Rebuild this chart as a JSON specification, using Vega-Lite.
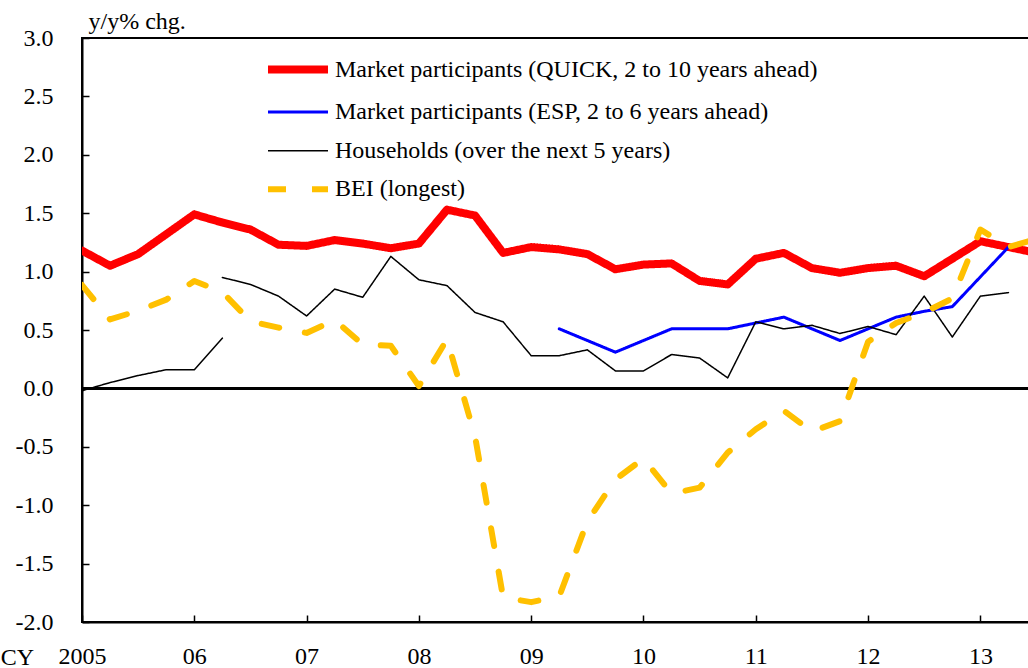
{
  "$schema": "https://vega.github.io/schema/vega-lite/v6.json",
  "width": 947,
  "height": 584,
  "autosize": {"type": "none"},
  "padding": {"left": 82, "top": 38, "right": 0, "bottom": 46},
  "background": "white",
  "config": {
    "font": "Liberation Serif",
    "view": {"stroke": "black", "strokeWidth": 2},
    "axis": {
      "grid": false,
      "domainColor": "black",
      "domainWidth": 2,
      "tickColor": "black",
      "tickWidth": 1.5,
      "tickSize": -7,
      "labelFont": "Liberation Serif",
      "labelFontSize": 24,
      "labelColor": "black",
      "titleFont": "Liberation Serif",
      "titleFontSize": 24,
      "titleFontWeight": "normal",
      "titleColor": "black",
      "labelFlush": false,
      "labelOverlap": false
    }
  },
  "data": {
    "values": [
      {"s": "Q", "t": 2005.0, "v": 1.18}, {"s": "Q", "t": 2005.25, "v": 1.05}, {"s": "Q", "t": 2005.5, "v": 1.15}, {"s": "Q", "t": 2005.75, "v": 1.32},
      {"s": "Q", "t": 2006.0, "v": 1.49}, {"s": "Q", "t": 2006.25, "v": 1.42}, {"s": "Q", "t": 2006.5, "v": 1.36}, {"s": "Q", "t": 2006.75, "v": 1.23},
      {"s": "Q", "t": 2007.0, "v": 1.22}, {"s": "Q", "t": 2007.25, "v": 1.27}, {"s": "Q", "t": 2007.5, "v": 1.24}, {"s": "Q", "t": 2007.75, "v": 1.2},
      {"s": "Q", "t": 2008.0, "v": 1.24}, {"s": "Q", "t": 2008.25, "v": 1.53}, {"s": "Q", "t": 2008.5, "v": 1.48}, {"s": "Q", "t": 2008.75, "v": 1.16},
      {"s": "Q", "t": 2009.0, "v": 1.21}, {"s": "Q", "t": 2009.25, "v": 1.19}, {"s": "Q", "t": 2009.5, "v": 1.15}, {"s": "Q", "t": 2009.75, "v": 1.02},
      {"s": "Q", "t": 2010.0, "v": 1.06}, {"s": "Q", "t": 2010.25, "v": 1.07}, {"s": "Q", "t": 2010.5, "v": 0.92}, {"s": "Q", "t": 2010.75, "v": 0.89},
      {"s": "Q", "t": 2011.0, "v": 1.11}, {"s": "Q", "t": 2011.25, "v": 1.16}, {"s": "Q", "t": 2011.5, "v": 1.03}, {"s": "Q", "t": 2011.75, "v": 0.99},
      {"s": "Q", "t": 2012.0, "v": 1.03}, {"s": "Q", "t": 2012.25, "v": 1.05}, {"s": "Q", "t": 2012.5, "v": 0.96}, {"s": "Q", "t": 2012.75, "v": 1.11},
      {"s": "Q", "t": 2013.0, "v": 1.26}, {"s": "Q", "t": 2013.25, "v": 1.21}, {"s": "Q", "t": 2013.5, "v": 1.16},

      {"s": "E", "t": 2009.25, "v": 0.51}, {"s": "E", "t": 2009.75, "v": 0.31},
      {"s": "E", "t": 2010.0, "v": 0.41}, {"s": "E", "t": 2010.25, "v": 0.51}, {"s": "E", "t": 2010.5, "v": 0.51}, {"s": "E", "t": 2010.75, "v": 0.51},
      {"s": "E", "t": 2011.0, "v": 0.56}, {"s": "E", "t": 2011.25, "v": 0.61}, {"s": "E", "t": 2011.5, "v": 0.51}, {"s": "E", "t": 2011.75, "v": 0.41},
      {"s": "E", "t": 2012.0, "v": 0.51}, {"s": "E", "t": 2012.25, "v": 0.61}, {"s": "E", "t": 2012.5, "v": 0.66}, {"s": "E", "t": 2012.75, "v": 0.7},
      {"s": "E", "t": 2013.25, "v": 1.21},

      {"s": "H", "g": "a", "t": 2005.0, "v": -0.02}, {"s": "H", "g": "a", "t": 2005.25, "v": 0.05}, {"s": "H", "g": "a", "t": 2005.5, "v": 0.11},
      {"s": "H", "g": "a", "t": 2005.75, "v": 0.16}, {"s": "H", "g": "a", "t": 2006.0, "v": 0.16}, {"s": "H", "g": "a", "t": 2006.25, "v": 0.43},
      {"s": "H", "g": "b", "t": 2006.25, "v": 0.95}, {"s": "H", "g": "b", "t": 2006.5, "v": 0.89}, {"s": "H", "g": "b", "t": 2006.75, "v": 0.79},
      {"s": "H", "g": "b", "t": 2007.0, "v": 0.62}, {"s": "H", "g": "b", "t": 2007.25, "v": 0.85}, {"s": "H", "g": "b", "t": 2007.5, "v": 0.78}, {"s": "H", "g": "b", "t": 2007.75, "v": 1.13},
      {"s": "H", "g": "b", "t": 2008.0, "v": 0.93}, {"s": "H", "g": "b", "t": 2008.25, "v": 0.88}, {"s": "H", "g": "b", "t": 2008.5, "v": 0.65}, {"s": "H", "g": "b", "t": 2008.75, "v": 0.57},
      {"s": "H", "g": "b", "t": 2009.0, "v": 0.28}, {"s": "H", "g": "b", "t": 2009.25, "v": 0.28}, {"s": "H", "g": "b", "t": 2009.5, "v": 0.33}, {"s": "H", "g": "b", "t": 2009.75, "v": 0.15},
      {"s": "H", "g": "b", "t": 2010.0, "v": 0.15}, {"s": "H", "g": "b", "t": 2010.25, "v": 0.29}, {"s": "H", "g": "b", "t": 2010.5, "v": 0.26}, {"s": "H", "g": "b", "t": 2010.75, "v": 0.09},
      {"s": "H", "g": "b", "t": 2011.0, "v": 0.57}, {"s": "H", "g": "b", "t": 2011.25, "v": 0.51}, {"s": "H", "g": "b", "t": 2011.5, "v": 0.54}, {"s": "H", "g": "b", "t": 2011.75, "v": 0.47},
      {"s": "H", "g": "b", "t": 2012.0, "v": 0.53}, {"s": "H", "g": "b", "t": 2012.25, "v": 0.46}, {"s": "H", "g": "b", "t": 2012.5, "v": 0.79}, {"s": "H", "g": "b", "t": 2012.75, "v": 0.44},
      {"s": "H", "g": "b", "t": 2013.0, "v": 0.79}, {"s": "H", "g": "b", "t": 2013.25, "v": 0.82},

      {"s": "B", "t": 2005.0, "v": 0.885}, {"s": "B", "t": 2005.25, "v": 0.59}, {"s": "B", "t": 2005.5, "v": 0.665}, {"s": "B", "t": 2005.75, "v": 0.76},
      {"s": "B", "t": 2006.0, "v": 0.92}, {"s": "B", "t": 2006.25, "v": 0.825}, {"s": "B", "t": 2006.5, "v": 0.575}, {"s": "B", "t": 2006.75, "v": 0.52},
      {"s": "B", "t": 2007.0, "v": 0.475}, {"s": "B", "t": 2007.25, "v": 0.585}, {"s": "B", "t": 2007.5, "v": 0.375}, {"s": "B", "t": 2007.75, "v": 0.365},
      {"s": "B", "t": 2008.0, "v": 0.02}, {"s": "B", "t": 2008.25, "v": 0.42}, {"s": "B", "t": 2008.5, "v": -0.41}, {"s": "B", "t": 2008.75, "v": -1.79},
      {"s": "B", "t": 2009.0, "v": -1.83}, {"s": "B", "t": 2009.25, "v": -1.78}, {"s": "B", "t": 2009.5, "v": -1.14}, {"s": "B", "t": 2009.75, "v": -0.78},
      {"s": "B", "t": 2010.0, "v": -0.6}, {"s": "B", "t": 2010.25, "v": -0.9}, {"s": "B", "t": 2010.5, "v": -0.85}, {"s": "B", "t": 2010.75, "v": -0.55},
      {"s": "B", "t": 2011.0, "v": -0.35}, {"s": "B", "t": 2011.25, "v": -0.19}, {"s": "B", "t": 2011.5, "v": -0.37}, {"s": "B", "t": 2011.75, "v": -0.28},
      {"s": "B", "t": 2012.0, "v": 0.4}, {"s": "B", "t": 2012.25, "v": 0.56}, {"s": "B", "t": 2012.5, "v": 0.65}, {"s": "B", "t": 2012.75, "v": 0.77},
      {"s": "B", "t": 2013.0, "v": 1.36}, {"s": "B", "t": 2013.25, "v": 1.21}, {"s": "B", "t": 2013.5, "v": 1.28}
    ]
  },
  "layer": [
    {
      "mark": {"type": "rule", "stroke": "black", "strokeWidth": 1.5},
      "encoding": {"y": {"datum": 0, "type": "quantitative"}}
    },
    {
      "mark": {"type": "line", "strokeCap": "round", "strokeJoin": "round", "clip": true},
      "encoding": {
        "x": {
          "field": "t",
          "type": "quantitative",
          "scale": {"domain": [2005, 2013.433], "nice": false, "zero": false},
          "axis": {
            "values": [2005, 2006, 2007, 2008, 2009, 2010, 2011, 2012, 2013],
            "labelExpr": "datum.value == 2005 ? '2005' : slice(toString(datum.value), 2)",
            "labelBaseline": "top",
            "labelPadding": 29,
            "title": "CY",
            "titleX": -65,
            "titleY": 42,
            "titleAlign": "center",
            "titleBaseline": "alphabetic"
          }
        },
        "y": {
          "field": "v",
          "type": "quantitative",
          "scale": {"domain": [-2, 3], "nice": false, "zero": false},
          "axis": {
            "values": [-2, -1.5, -1, -0.5, 0, 0.5, 1, 1.5, 2, 2.5, 3],
            "format": ".1f",
            "labelExpr": "replace(datum.label, '−', '-')",
            "labelPadding": 36,
            "title": "y/y% chg.",
            "titleAngle": 0,
            "titleX": 6,
            "titleY": -10,
            "titleAlign": "left",
            "titleBaseline": "alphabetic"
          }
        },
        "color": {
          "field": "s",
          "type": "nominal",
          "scale": {"domain": ["Q", "E", "H", "B"], "range": ["#FF0000", "#0000FF", "#000000", "#FFC000"]},
          "legend": {
            "orient": "none",
            "legendX": 204,
            "legendY": 19.5,
            "title": null,
            "padding": 0,
            "symbolType": "M-4,0H4",
            "symbolSize": 225,
            "labelFont": "Liberation Serif",
            "labelFontSize": 24,
            "labelColor": "black",
            "labelOffset": 25,
            "labelLimit": 0,
            "rowPadding": 14.6,
            "labelExpr": "datum.value == 'Q' ? 'Market participants (QUICK, 2 to 10 years ahead)' : datum.value == 'E' ? 'Market participants (ESP, 2 to 6 years ahead)' : datum.value == 'H' ? 'Households (over the next 5 years)' : 'BEI (longest)'",
            "symbolFillColor": "transparent"
          }
        },
        "strokeWidth": {
          "field": "s",
          "type": "nominal",
          "scale": {"type": "ordinal", "domain": ["Q", "E", "H", "B"], "range": [8, 3, 1.5, 6]}
        },
        "strokeDash": {
          "field": "s",
          "type": "nominal",
          "scale": {"domain": ["Q", "E", "H", "B"], "range": [[1, 0], [1, 0], [1, 0], [18, 26]]}
        },
        "detail": {"field": "g"}
      }
    }
  ]
}
